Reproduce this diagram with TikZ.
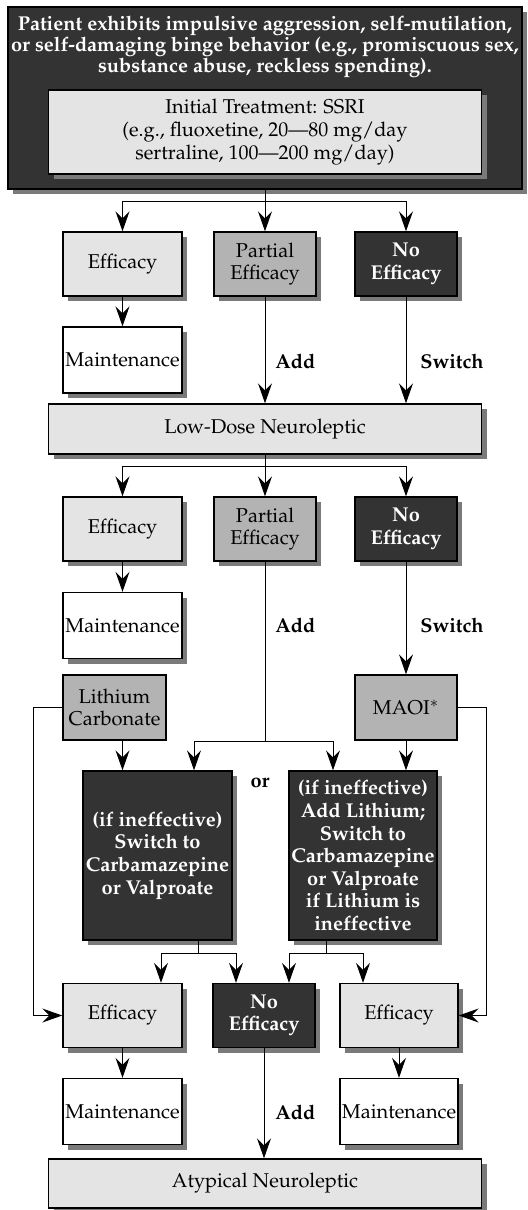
\documentclass[tikz,border=0pt]{standalone}
\usepackage[T1]{fontenc}
\usepackage{mathpazo}
\usetikzlibrary{arrows.meta,shadows,positioning}

\definecolor{boxlight}{RGB}{228,228,228}
\definecolor{boxmid}{RGB}{179,179,179}
\definecolor{boxdark}{RGB}{51,51,51}
\definecolor{boxshadow}{RGB}{122,122,122}

\tikzset{
  every node/.style={font=\fontsize{10}{11.3}\selectfont},
  box/.style={draw, line width=0.7pt, align=center, inner sep=0pt, minimum height=32pt},
  shad/.style={drop shadow={shadow xshift=2.5pt, shadow yshift=-2.5pt, fill=boxshadow, opacity=1}},
  light/.style={box, shad, fill=boxlight},
  mid/.style={box, fill=boxmid},
  dark/.style={box, shad, fill=boxdark, text=white, font=\fontsize{10}{11.3}\selectfont\bfseries},
  plain/.style={box, shad, fill=white},
  arr/.style={-{Stealth[length=10pt,width=7pt,inset=3.5pt]}, line width=0.5pt},
  line/.style={line width=0.5pt},
  tag/.style={font=\fontsize{10}{11.3}\selectfont\bfseries, anchor=west, inner sep=0pt}
}

\begin{document}
\begin{tikzpicture}[x=0.5pt, y=-0.5pt]
\useasboundingbox (0,0) rectangle (528,1210);

% patient and initial treatment
\node[dark, minimum width=257pt, minimum height=91pt] (patient) at (265,98) {};
\node[align=center, text=white, font=\fontsize{10}{10.5}\selectfont\bfseries, inner sep=0pt] (patienttext) at (265,47)
  {Patient exhibits impulsive aggression, self-mutilation,\\
   or self-damaging binge behavior (e.g., promiscuous sex,\\
   substance abuse, reckless spending).};
\node[light, minimum width=216.5pt, minimum height=42pt] (ssri) at (265,132)
  {Initial Treatment: SSRI\\(e.g., fluoxetine, 20---80 mg/day\\sertraline, 100---200 mg/day)};

% first response
\coordinate (b1) at (265,201);
\node[light, minimum width=59.5pt] (eff1) at (122.5,264) {Efficacy};
\node[mid, shad, minimum width=51pt] (part1) at (265,264) {Partial\\Efficacy};
\node[dark, minimum width=51pt] (noeff1) at (406,264) {No\\Efficacy};
\node[plain, minimum width=59.5pt, minimum height=33pt] (maint1) at (122.5,360) {Maintenance};
\node[tag] (add1) at (275,361) {Add};
\node[tag] (switch1) at (420,361) {Switch};
\node[light, minimum width=216.5pt, minimum height=25pt] (lowdose) at (265,429) {Low-Dose Neuroleptic};

\draw[line] (patient.south) -- (b1);
\draw[arr] (b1) -| (eff1.north);
\draw[arr] (b1) -- (part1.north);
\draw[arr] (b1) -| (noeff1.north);
\draw[arr] (eff1) -- (maint1);
\draw[arr] (part1) -- (lowdose.north);
\draw[arr] (noeff1) -- (noeff1 |- lowdose.north);

% second response
\coordinate (b2) at (265,466);
\node[light, minimum width=59.5pt] (eff2) at (122.5,529) {Efficacy};
\node[mid, shad, minimum width=51pt] (part2) at (265,529) {Partial\\Efficacy};
\node[dark, minimum width=51pt] (noeff2) at (406,529) {No\\Efficacy};
\node[plain, minimum width=59.5pt, minimum height=33pt] (maint2) at (122.5,625.5) {Maintenance};
\node[tag] (add2) at (275,625) {Add};
\node[tag] (switch2) at (420,625) {Switch};

\draw[line] (lowdose.south) -- (b2);
\draw[arr] (b2) -| (eff2.north);
\draw[arr] (b2) -- (part2.north);
\draw[arr] (b2) -| (noeff2.north);
\draw[arr] (eff2) -- (maint2);

% lithium / maoi
\node[mid, minimum width=51.5pt, minimum height=32.5pt] (lith) at (114.5,707.5) {Lithium\\Carbonate};
\node[mid, minimum width=51pt, minimum height=32.5pt] (maoi) at (406,707.5) {MAOI$^*$};
\node[dark, minimum width=74.5pt, minimum height=84.5pt] (ineffL) at (157.5,855.5)
  {(if ineffective)\\Switch to\\Carbamazepine\\or Valproate};
\node[dark, minimum width=74pt, minimum height=84.5pt] (ineffR) at (363,855.5)
  {(if ineffective)\\Add Lithium;\\Switch to\\Carbamazepine\\or Valproate\\if Lithium is\\ineffective};
\node[tag, anchor=center] (or) at (260,783) {or};

\coordinate (b3) at (265,741);
\draw[arr] (noeff2) -- (maoi);
\draw[line] (part2) -- (b3);
\draw[arr] (b3) -| ([xshift=18.25pt]ineffL.north);
\draw[arr] (b3) -| ([xshift=-15pt]ineffR.north);
\draw[arr] (lith.south -| eff2.south) -- (ineffL.north -| eff2.south);
\draw[arr] (maoi) -- (maoi |- ineffR.north);

% final response
\node[light, minimum width=59.5pt] (eff3) at (122.5,1015.5) {Efficacy};
\node[dark, minimum width=51pt] (noeff3) at (264,1015.5) {No\\Efficacy};
\node[light, minimum width=59pt] (eff4) at (399,1015.5) {Efficacy};
\node[plain, minimum width=59.5pt, minimum height=33pt] (maint3) at (122.5,1111.5) {Maintenance};
\node[plain, minimum width=59pt, minimum height=33pt] (maint4) at (399,1111.5) {Maintenance};
\node[tag] (add3) at (275,1112) {Add};
\node[light, minimum width=216.5pt, minimum height=24.5pt] (atyp) at (265,1183.5) {Atypical Neuroleptic};

\coordinate (b4) at (198,953);
\coordinate (b5) at (326,953);
\draw[line] (ineffL.south -| b4) -- (b4);
\draw[line] (ineffR.south -| b5) -- (b5);
\draw[arr] (b4) -| ([xshift=19.25pt]eff3.north);
\draw[arr] (b4) -| ([xshift=-14pt]noeff3.north);
\draw[arr] (b5) -| ([xshift=12.5pt]noeff3.north);
\draw[arr] (b5) -| ([xshift=-18pt]eff4.north);
\draw[arr] (lith.west) -- ++(-14.5pt,0) |- (eff3.west);
\draw[arr] (maoi.east) -- ++(14.5pt,0) |- (eff4.east);
\draw[arr] (eff3) -- (maint3);
\draw[arr] (eff4) -- (maint4);
\draw[arr] (noeff3.south) -- (noeff3.south |- atyp.north);
\end{tikzpicture}
\end{document}
